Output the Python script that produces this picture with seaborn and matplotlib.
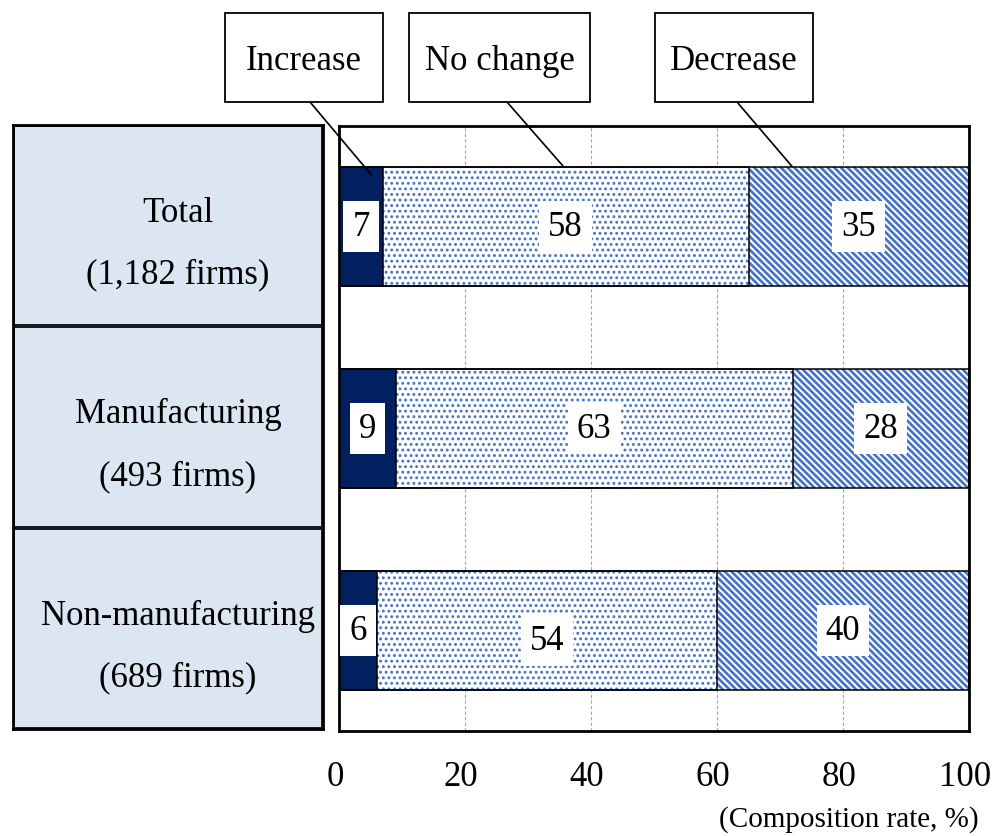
import numpy as np
import pandas as pd
import matplotlib
matplotlib.use("Agg")
import matplotlib.pyplot as plt
import matplotlib.transforms as mtransforms
from matplotlib.colors import ListedColormap
from matplotlib.patches import Rectangle
import seaborn as sns

# ---- data -------------------------------------------------------------
categories = ["Total", "Manufacturing", "Non-manufacturing"]
firm_counts = ["1,182", "493", "689"]
increase = [7, 9, 6]
no_change = [58, 63, 54]
decrease = [35, 28, 40]
series_names = ["Increase", "No change", "Decrease"]
x_ticks = [0, 20, 40, 60, 80, 100]

# ---- style ------------------------------------------------------------
sns.set_theme(style="white")
plt.rcParams["font.family"] = ["Liberation Serif", "DejaVu Serif"]
plt.rcParams["text.color"] = "black"
plt.rcParams["xtick.color"] = "black"

NAVY = "#002060"
PATTERN_BLUE = "#4472C4"
TABLE_FILL = "#DCE6F2"
FS = 25

W, H = 993, 837
fig = plt.figure(figsize=(W / 100, H / 100), dpi=100)


def fx(px):
    return px / W


def fy(py):
    return 1 - py / H


df = pd.DataFrame({
    "category": categories,
    "increase": increase,
    "no_change": no_change,
    "decrease": decrease,
})
df["end_increase"] = df["increase"]
df["end_no_change"] = df["end_increase"] + df["no_change"]
df["end_decrease"] = df["end_no_change"] + df["decrease"]

# ---- main bar axes ----------------------------------------------------
ax = fig.add_axes([fx(339), fy(732), fx(969) - fx(339), fy(127) - fy(732)])
BAR_W = 0.59

layers = [
    ("end_decrease", "white", "\\\\\\\\\\", PATTERN_BLUE, 1.9),
    ("end_no_change", "white", "...", PATTERN_BLUE, 1.3),
    ("end_increase", NAVY, None, NAVY, 0.5),
]
for col, face, hatch, hcolor, hlw in layers:
    n0 = len(ax.patches)
    with plt.rc_context({"hatch.linewidth": hlw}):
        sns.barplot(data=df, x=col, y="category", orient="h", width=BAR_W,
                    color=face, saturation=1, errorbar=None, ax=ax,
                    hatch=hatch, edgecolor=hcolor, linewidth=0, zorder=2)
    for p in ax.patches[n0:]:
        if hasattr(p, "set_hatch_linewidth"):
            p.set_hatch_linewidth(hlw)

# black outlines of every segment
for col in ["end_decrease", "end_no_change", "end_increase"]:
    n0 = len(ax.patches)
    sns.barplot(data=df, x=col, y="category", orient="h", width=BAR_W,
                color="black", saturation=1, errorbar=None, ax=ax, zorder=3)
    for p in ax.patches[n0:]:
        p.set_facecolor("none")
        p.set_edgecolor("black")
        p.set_linewidth(1.1)

ax.set_xlim(0, 100)
ax.set_ylim(2.5, -0.5)
ax.set_xticks(x_ticks)
ax.set_xticklabels([str(t) for t in x_ticks], fontsize=FS, color="black")
ax.set_yticks([])
ax.set_xlabel("")
ax.set_ylabel("")
ax.tick_params(axis="x", length=0, pad=21, colors="black")
shift = mtransforms.ScaledTranslation(-4 / 100, 0, fig.dpi_scale_trans)
for lbl in ax.get_xticklabels():
    lbl.set_transform(lbl.get_transform() + shift)
ax.set_axisbelow(True)
ax.xaxis.grid(True, color="#A6A6A6", linestyle=(0, (3, 2)), linewidth=0.8)
ax.yaxis.grid(False)
for s in ax.spines.values():
    s.set_visible(True)
    s.set_color("black")
    s.set_linewidth(2.0)

# value labels in white boxes
label_nudge = {(2, 1): 0.05}
for i in range(len(categories)):
    starts = [0, df["end_increase"][i], df["end_no_change"][i]]
    vals = [increase[i], no_change[i], decrease[i]]
    for j, (s0, v) in enumerate(zip(starts, vals)):
        ax.text(s0 + v / 2, i + label_nudge.get((i, j), 0), str(v),
                ha="center", va="center", fontsize=FS, color="black",
                zorder=6,
                bbox=dict(boxstyle="square,pad=0.26", fc="white", ec="none"))

# ---- category table on the left ---------------------------------------
ax_t = fig.add_axes([fx(13), fy(730), fx(323) - fx(13), fy(126) - fy(730)])
sns.heatmap(np.zeros((len(categories), 1)), cmap=ListedColormap([TABLE_FILL]),
            cbar=False, linewidths=1.6, linecolor="#1a1a1a",
            xticklabels=False, yticklabels=False, ax=ax_t)
for s in ax_t.spines.values():
    s.set_visible(True)
    s.set_color("black")
    s.set_linewidth(2.0)
for i, (name, n) in enumerate(zip(categories, firm_counts)):
    ax_t.text(0.532, i + 0.5 - 0.065, name, ha="center", va="center",
              fontsize=FS, color="black")
    ax_t.text(0.532, i + 0.5 + 0.24, f"({n} firms)", ha="center",
              va="center", fontsize=FS, color="black")

# ---- series callouts ----------------------------------------------------
callout_boxes = [(225, 383), (409, 590), (655, 813)]
callout_root = [310, 507, 737]
callout_tip = [(5.2, -0.255), (35.6, -0.3), (71.9, -0.3)]
for name, (x0, x1), rx, tip in zip(series_names, callout_boxes,
                                   callout_root, callout_tip):
    fig.add_artist(Rectangle((fx(x0), fy(103)), fx(x1) - fx(x0),
                             fy(14) - fy(103), transform=fig.transFigure,
                             fc="white", ec="black", lw=1.3, zorder=5))
    fig.text(fx((x0 + x1) / 2), fy(62), name, ha="center", va="center",
             fontsize=FS, color="black", zorder=6)
    ax.annotate("", xy=tip, xycoords="data",
                xytext=(fx(rx), fy(103)), textcoords="figure fraction",
                arrowprops=dict(arrowstyle="-", lw=1.2, color="black",
                                shrinkA=0, shrinkB=0),
                annotation_clip=False, zorder=7)

fig.text(fx(979), fy(820), "(Composition rate, %)", ha="right",
         va="center", fontsize=21, color="black")

fig.savefig("out.png", dpi=100)
